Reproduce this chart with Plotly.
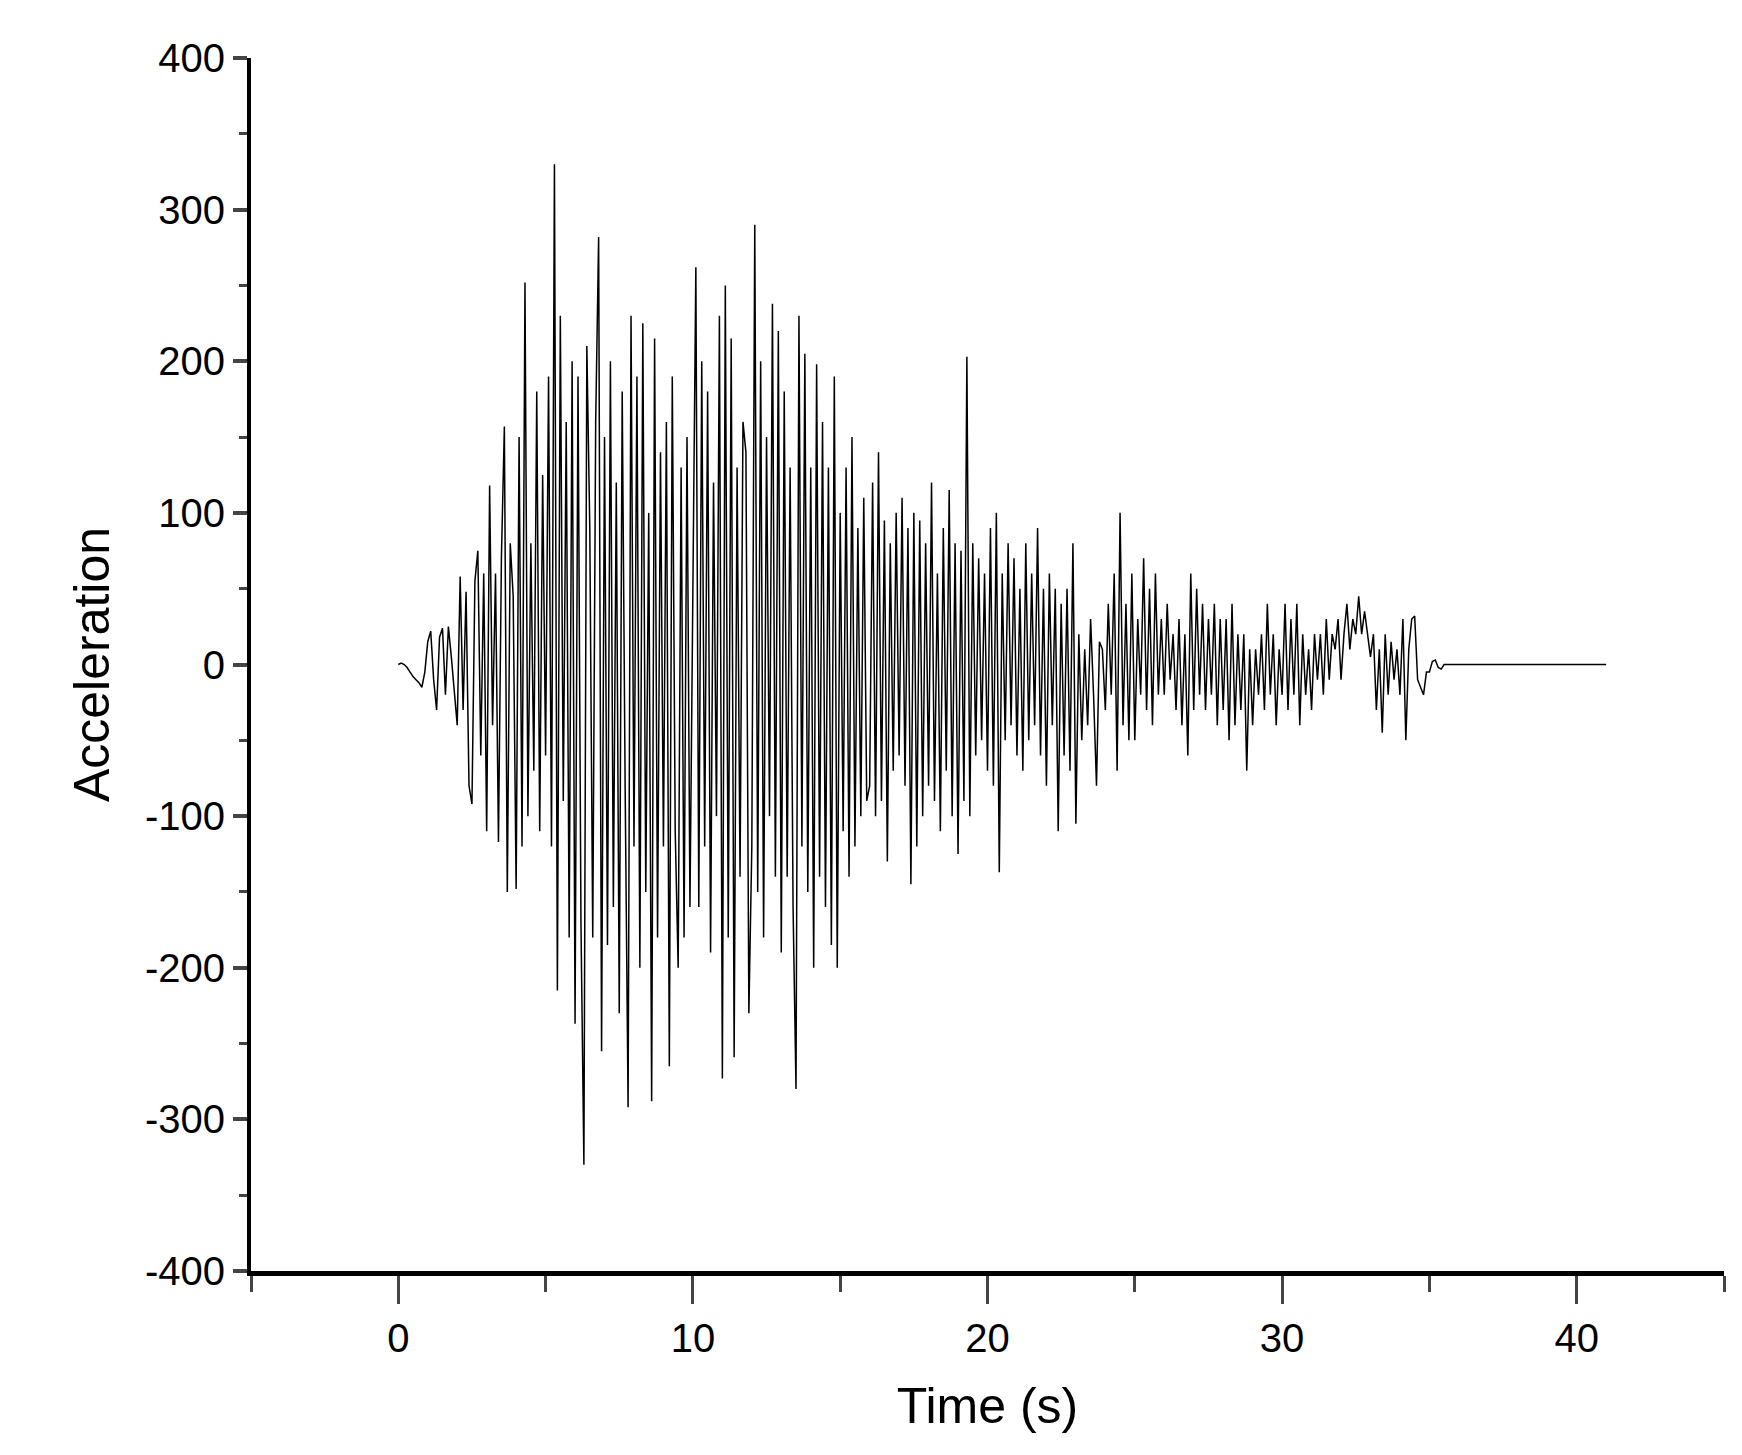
import numpy as np
import plotly.graph_objects as go

# acceleration, 10 samples per second from 0 s to 36 s
acc_0_6 = [
    0, 1, 0, -2, -5, -8, -10, -12, -15, -5,
    15, 22, -10, -30, 18, 24, -20, 25, 5, -18,
    -40, 58, -30, 48, -80, -92, 55, 75, -60, 60,
    -110, 118, -40, 60, -117, 70, 157, -150, 80, 45,
    -148, 150, -120, 252, -100, 80, -70, 180, -110, 125,
    -60, 190, -120, 330, -215, 230, -90, 160, -180, 200,
]
acc_6_12 = [
    -237, 190, -170, -330, 210, 90, -180, 160, 282, -255,
    150, -185, 200, -160, 120, -230, 180, -80, -292, 230,
    -120, 190, -200, 225, -150, 100, -288, 215, -180, 140,
    -120, 160, -265, 190, -110, -200, 130, -180, 150, -160,
    50, 262, -160, 200, -120, 180, -190, 120, -100, 230,
    -273, 250, -180, 215, -259, 130, -140, 160, 140, -230,
]
acc_12_18 = [
    -120, 290, -150, 200, -180, 150, -100, 238, -140, 220,
    -190, 180, -140, 130, -160, -280, 230, -120, 205, -150,
    130, -200, 198, -140, 160, -160, 130, -185, 190, -200,
    100, -110, 130, -140, 150, -120, 90, -100, 110, -90,
    -80, 120, -100, 140, -90, 95, -130, 80, -70, 100,
    -60, 110, -80, 90, -145, 100, -120, 95, -100, 80,
]
acc_18_24 = [
    -80, 120, -90, 60, -110, 90, -70, 115, -100, 80,
    -125, 75, -90, 203, -100, 80, -60, 70, -50, 60,
    -70, 90, -80, 100, -137, 60, -50, 80, -40, 70,
    -60, 50, -70, 80, -50, 60, -40, 90, -60, 50,
    -80, 60, -40, 50, -110, 40, -60, 50, -70, 80,
    -105, 20, -50, 10, -40, 30, -20, -80, 15, 10,
]
acc_24_30 = [
    -30, 40, -20, 60, -70, 100, -40, 40, -50, 60,
    -50, 30, -20, 70, -30, 50, -40, 60, -20, 30,
    -20, 40, -10, 20, -30, 30, -40, 20, -60, 60,
    -30, 50, -20, 40, -30, 30, -20, 40, -40, 30,
    -30, 30, -50, 40, -40, 20, -30, 20, -70, 10,
    -40, 10, -20, 20, -30, 40, -20, 20, -40, 10,
]
acc_30_36 = [
    -20, 40, -30, 30, -20, 40, -40, 20, -20, 10,
    -30, 20, -10, 20, -20, 30, -10, 20, 10, 30,
    -10, 20, 40, 10, 30, 20, 45, 20, 35, 20,
    5, 20, -30, 10, -45, 20, -20, 15, -10, 10,
    -20, 30, -50, 10, 30, 32, -10, -15, -20, -5,
    -5, 2, 3, -2, -3, 0, 0, 0, 0, 0,
]
acc = acc_0_6 + acc_6_12 + acc_12_18 + acc_18_24 + acc_24_30 + acc_30_36
time = list(np.round(np.arange(len(acc)) * 0.1, 2))
# record ends with a flat tail of zeros up to 41 s
time += [41.0]
acc += [0]

y_ticks = [-400, -300, -200, -100, 0, 100, 200, 300, 400]
x_ticks = [0, 10, 20, 30, 40]

fig = go.Figure(go.Scatter(x=time, y=acc, mode="lines",
                           line=dict(color="black", width=1.5)))

fam = "Liberation Sans"
tick_font = dict(family=fam, size=40, color="black")
title_font = dict(family=fam, size=50, color="black")
fig.update_layout(
    width=1742, height=1455,
    plot_bgcolor="white", paper_bgcolor="white",
    showlegend=False,
    margin=dict(l=243, r=26, t=50, b=192),
    xaxis=dict(range=[-5, 45], tickvals=x_ticks, ticktext=[str(v) for v in x_ticks],
               ticks="outside", ticklen=28, tickwidth=3, showline=True, linewidth=5,
               linecolor="black", showgrid=False, zeroline=False, tickfont=tick_font,
               minor=dict(dtick=5, tick0=0, ticks="outside", ticklen=16, tickwidth=3),
               title=dict(text="Time (s)", font=title_font, standoff=30)),
    yaxis=dict(range=[-400, 400], tickvals=y_ticks, ticktext=[str(v) for v in y_ticks],
               ticks="outside", ticklen=14, tickwidth=4, showline=True, linewidth=4,
               linecolor="black", showgrid=False, zeroline=False, tickfont=tick_font,
               minor=dict(dtick=50, ticks="outside", ticklen=8, tickwidth=3),
               title=dict(text="Acceleration", font=title_font, standoff=20)),
)

fig.write_html("out.html")
